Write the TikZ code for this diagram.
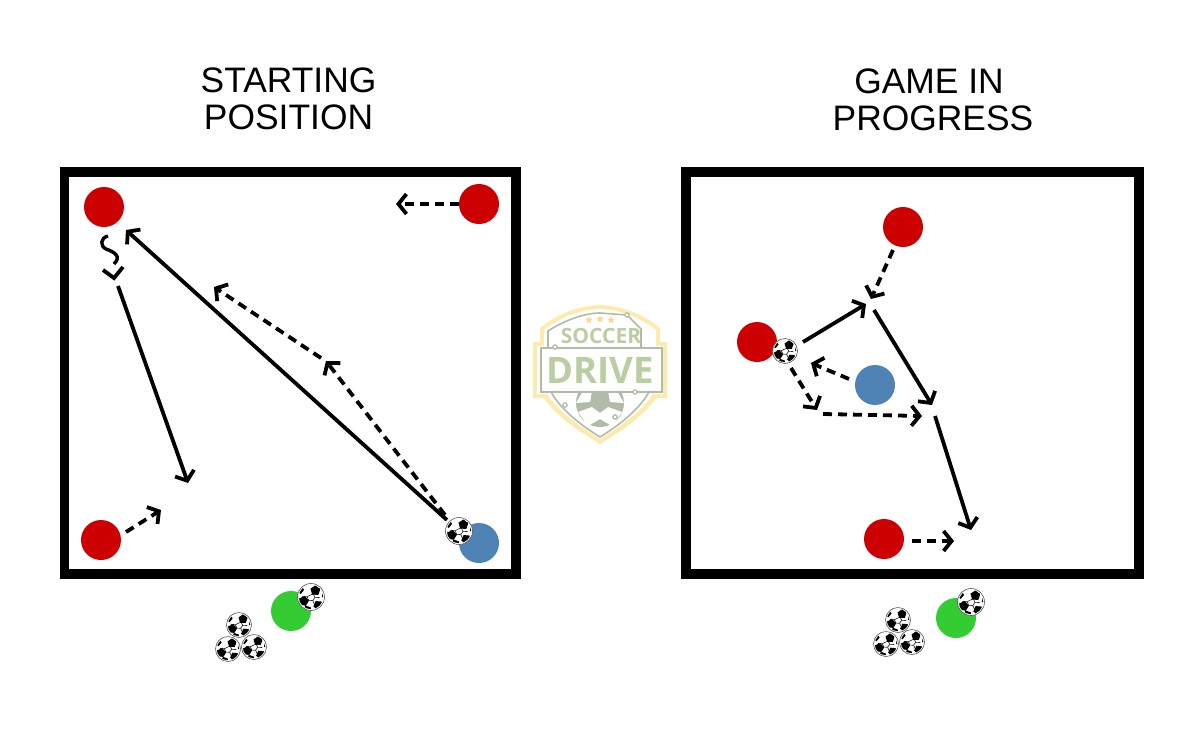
\documentclass[tikz,border=0pt]{standalone}
\usepackage{fontspec}
\setmainfont{Liberation Sans}
\newfontfamily\logofont{Open Sans}
\usetikzlibrary{arrows.meta}
\definecolor{redp}{HTML}{CC0000}
\definecolor{bluep}{HTML}{5083B5}
\definecolor{greenp}{HTML}{33CC33}
\definecolor{lyellow}{HTML}{FCEBAE}
\definecolor{lgray}{HTML}{B0BBA8}
\definecolor{lgreen}{HTML}{BBCDA3}
\tikzset{
  box/.style={draw=black,line width=9.5pt,fill=white},
  title/.style={font=\fontsize{35.4}{37}\selectfont,align=center,inner sep=0pt},
  player/.style={circle,minimum size=40pt,inner sep=0pt,draw=none},
  redpl/.style={player,fill=redp},
  bluepl/.style={player,fill=bluep},
  greenpl/.style={player,fill=greenp},
  ballnode/.style={circle,minimum size=27pt,inner sep=0pt,draw=black!65,line width=.6pt,fill=white},
  smallball/.style={ballnode,minimum size=25pt},
  run/.style={line width=3.8pt,-{Straight Barb[length=8pt,width=20pt,line width=3.8pt]}},
  dashrun/.style={run,dash pattern=on 9pt off 6pt},
  ballface/.pic={
    \begin{scope}
      \clip (0,0) circle (12.2pt);
      \draw[black!85,line width=.6pt] (-56:4)--(4:4)--(64:4)--(124:4)--(184:4)--cycle;
      \foreach \a in {4,64,124,184,-56}{\draw[black!85,line width=.6pt] (\a:4)--(\a:9);}
      \foreach \a/\r/\s in {-56/7.8/5.2,151/8.4/5.2,49/11/5,213/13.5/4.4,107/13.6/4.6,-8/14.6/4}{
        \fill[black,shift={(\a:\r)},rotate=\a] (0:\s)--(72:\s)--(144:\s)--(216:\s)--(288:\s)--cycle;}
    \end{scope}
  },
  logostar/.pic={\fill[lyellow!80!orange] (-90:4)--(-54:1.6)--(-18:4)--(18:1.6)--(54:4)--(90:1.6)--(126:4)--(162:1.6)--(198:4)--(234:1.6)--cycle;},
}
\begin{document}
\begin{tikzpicture}[x=1pt,y=-1pt]
\useasboundingbox (0,0) rectangle (1200,750);
\fill[white] (0,0) rectangle (1200,750);

% logo
\begin{scope}
\fill[lyellow] (600,305) .. controls (625,306) and (645,316) .. (660,328) -- (660,342) -- (667,342) -- (667,398) -- (656,398) .. controls (645,415) and (620,432) .. (600,444) .. controls (580,432) and (555,415) .. (544,398) -- (533,398) -- (533,342) -- (540,342) -- (540,328) .. controls (555,316) and (575,306) .. (600,305) -- cycle;
\fill[white] (600,309) .. controls (623,310) and (642,319) .. (656,330) -- (656,346) -- (663,346) -- (663,394) -- (653,394) .. controls (642,411) and (619,427) .. (600,439) .. controls (581,427) and (558,411) .. (547,394) -- (537,394) -- (537,346) -- (544,346) -- (544,330) .. controls (558,319) and (577,310) .. (600,309) -- cycle;
\begin{scope}
\clip (540,392) rectangle (660,430);
\fill[lgray] (600,403) circle (24);
\fill[white] (600,413) -- (592,407) -- (578,412) -- (588,426) -- (600,419) -- (612,426) -- (622,412) -- (608,407) -- cycle;
\fill[white] (583,391) -- (592,391) -- (590,402) -- (576,403) -- cycle;
\fill[white] (617,391) -- (608,391) -- (610,402) -- (624,403) -- cycle;
\end{scope}
\draw[lgray,line width=1.6pt] (548,347) -- (548,331) .. controls (565,320) and (585,313) .. (600,313) -- (627,315) -- (641,329) -- (641,347);
\draw[lgray,line width=1.6pt] (551,392) .. controls (561,410) and (582,426) .. (600,437) .. controls (618,426) and (639,410) .. (649,392);
\draw[lgray,line width=2pt] (541,348) rectangle (662,392);
\draw[lgray,fill=white,line width=1.2pt] (555,347) circle (2.2) (627,315) circle (2.2) (635,392) circle (2.2) (565,405) circle (2.2) (615,417) circle (2.2);
\pic at (589,320) {logostar};
\pic at (600,319) {logostar};
\pic at (611,320) {logostar};
\node[inner sep=0pt,text=lgreen,font=\logofont\bfseries\fontsize{21}{21}\selectfont] (logotop) at (601,336) {SOCCER};
\node[inner sep=0pt,text=lgreen,font=\logofont\bfseries\fontsize{36.5}{36.5}\selectfont] (logomid) at (600,370) {DRIVE};
\end{scope}

% titles
\node[title] (t1) at (288.5,99) {STARTING\\POSITION};
\node[title] (t2) at (933,100) {GAME IN\hspace*{8pt}\\PROGRESS};

% boxes
\draw[box] (64.5,172) rectangle (516,574);
\draw[box] (686,172) rectangle (1139,574);

% players
\node[redpl] (a1) at (104,207) {};
\node[redpl] (a2) at (479,204) {};
\node[redpl] (a3) at (101,540) {};
\node[bluepl] (a4) at (479,543) {};
\node[ballnode] (ab) at (459,531) {};
\pic at (ab) {ballface};
\node[greenpl] (g1) at (291,611) {};
\node[ballnode] (gb1) at (311,597) {};
\pic at (gb1) {ballface};
\node[smallball] (p1) at (239,625) {};
\pic[scale=.92] at (p1) {ballface};
\node[smallball] (p2) at (228,649) {};
\pic[scale=.92] at (p2) {ballface};
\node[smallball] (p3) at (254,647) {};
\pic[scale=.92] at (p3) {ballface};

\node[redpl] (b1) at (903,227) {};
\node[redpl] (b2) at (757,342) {};
\node[redpl] (b3) at (884,539) {};
\node[bluepl] (b4) at (875,385) {};
\node[smallball] (bb) at (785,351) {};
\pic[scale=.92] at (bb) {ballface};
\node[greenpl] (g2) at (956,618) {};
\node[ballnode] (gb2) at (971,602) {};
\pic at (gb2) {ballface};
\node[smallball] (q1) at (898,620) {};
\pic[scale=.92] at (q1) {ballface};
\node[smallball] (q2) at (886,644) {};
\pic[scale=.92] at (q2) {ballface};
\node[smallball] (q3) at (912,642) {};
\pic[scale=.92] at (q3) {ballface};

% waypoints
\coordinate (l1) at (396,204);
\coordinate (l2s) at (447,520);
\coordinate (l2e) at (126,230);
\coordinate (l3s) at (445,515);
\coordinate (l3e) at (326,361);
\coordinate (l4s) at (321,358);
\coordinate (l4e) at (214,287);
\coordinate (l5s) at (118,286);
\coordinate (l5e) at (188,483);
\coordinate (l6s) at (126,532);
\coordinate (l6e) at (161,510);
\coordinate (s0) at (108,236);
\coordinate (s1) at (114,264);
\coordinate (r1s) at (893,250);
\coordinate (r1e) at (871,299);
\coordinate (r2s) at (803,342);
\coordinate (r2e) at (866,304);
\coordinate (r3s) at (874,310);
\coordinate (r3e) at (932,405);
\coordinate (r4s) at (791,368);
\coordinate (r4e) at (817,410);
\coordinate (r5s) at (823,414);
\coordinate (r5e) at (922,416);
\coordinate (r6s) at (849,379);
\coordinate (r6e) at (811,363);
\coordinate (r7s) at (935,416);
\coordinate (r7e) at (971,530);
\coordinate (r8s) at (912,541);
\coordinate (r8e) at (954,541);

% connectors left
\draw[dashrun] (a2) -- (l1);
\draw[run] (l2s) -- (l2e);
\draw[dashrun] (l3s) -- (l3e);
\draw[dashrun] (l4s) -- (l4e);
\draw[line width=3.4pt] (s0) .. controls (100,238) and (100,246) .. (106,249) .. controls (114,252) and (122,256) .. (s1);
\draw[line width=3.8pt] (103,270) -- (114,278) -- (123,267);
\draw[run] (l5s) -- (l5e);
\draw[dashrun] (l6s) -- (l6e);

% connectors right
\draw[dashrun] (r1s) -- (r1e);
\draw[run] (r2s) -- (r2e);
\draw[run] (r3s) -- (r3e);
\draw[dashrun] (r4s) -- (r4e);
\draw[dashrun] (r5s) -- (r5e);
\draw[dashrun] (r6s) -- (r6e);
\draw[run] (r7s) -- (r7e);
\draw[dashrun] (r8s) -- (r8e);
\end{tikzpicture}
\end{document}
